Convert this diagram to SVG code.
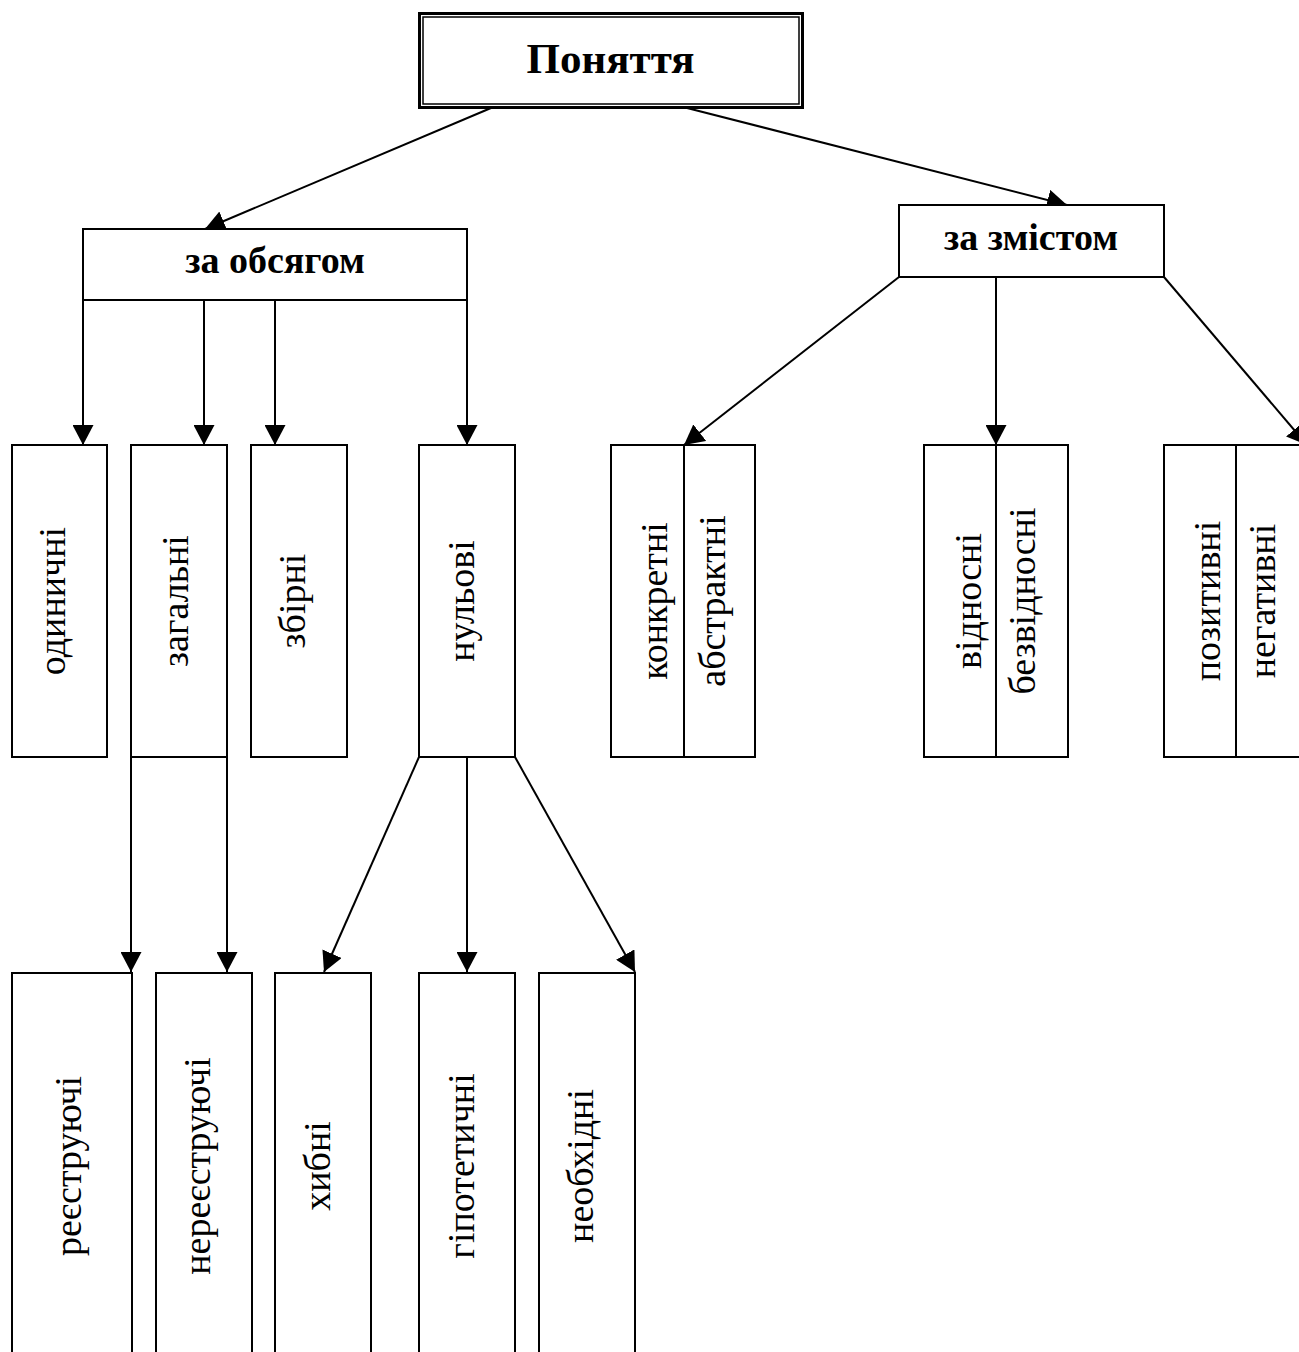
<svg xmlns="http://www.w3.org/2000/svg" width="1299" height="1352" viewBox="0 0 1299 1352">
<style>
.box{fill:#fff;stroke:#000;stroke-width:2}
.div{stroke:#000;stroke-width:2}
.con{stroke:#000;stroke-width:2;fill:none;marker-end:url(#ah)}
.hd{font-family:"Liberation Serif","Times New Roman",serif;font-weight:bold;text-anchor:middle;fill:#000}
.vt{font-family:"Liberation Serif","Times New Roman",serif;font-size:38px;text-anchor:middle;fill:#000}
</style>
<defs>
<marker id="ah" markerWidth="20" markerHeight="21" refX="20" refY="10.5" orient="auto" markerUnits="userSpaceOnUse">
<path d="M0,0 L20,10.5 L0,21 z" fill="#000"/>
</marker>
</defs>
<rect width="1299" height="1352" fill="#fff"/>
<g id="connectors">
<line class="con" x1="491" y1="108" x2="205" y2="229"/>
<line class="con" x1="687" y1="108" x2="1067" y2="205"/>
<line class="con" x1="83" y1="300" x2="83" y2="445"/>
<line class="con" x1="204" y1="300" x2="204" y2="445"/>
<line class="con" x1="275" y1="300" x2="275" y2="445"/>
<line class="con" x1="467" y1="300" x2="467" y2="445"/>
<line class="con" x1="899" y1="277" x2="684" y2="445"/>
<line class="con" x1="996" y1="277" x2="996" y2="445"/>
<line class="con" x1="1164" y1="277" x2="1307" y2="445"/>
<line class="con" x1="131" y1="757" x2="131" y2="972"/>
<line class="con" x1="227" y1="757" x2="227" y2="972"/>
<line class="con" x1="419" y1="757" x2="324" y2="972"/>
<line class="con" x1="467" y1="757" x2="467" y2="972"/>
<line class="con" x1="515" y1="757" x2="635" y2="972"/>
</g>
<g id="ponyattya">
<rect x="419.5" y="13.5" width="383" height="94" fill="#fff" stroke="#000" stroke-width="3"/>
<rect x="423" y="17" width="376" height="87" fill="none" stroke="#000" stroke-width="1.5"/>
<text class="hd" x="610.5" y="73" font-size="43">Поняття</text>
</g>
<g id="za-obsyagom">
<rect class="box" x="83" y="229" width="384" height="71"/>
<text class="hd" x="275" y="273" font-size="38">за обсягом</text>
</g>
<g id="za-zmistom">
<rect class="box" x="899" y="205" width="265" height="72"/>
<text class="hd" x="1031" y="250" font-size="38">за змістом</text>
</g>
<g id="odynychni">
<rect class="box" x="12" y="445" width="95" height="312"/>
<text class="vt" transform="translate(65,601) rotate(-90)">одиничні</text>
</g>
<g id="zagalni">
<rect class="box" x="131" y="445" width="96" height="312"/>
<text class="vt" transform="translate(188,601) rotate(-90)">загальні</text>
</g>
<g id="zbirni">
<rect class="box" x="251" y="445" width="96" height="312"/>
<text class="vt" transform="translate(305,601) rotate(-90)">збірні</text>
</g>
<g id="nulovi">
<rect class="box" x="419" y="445" width="96" height="312"/>
<text class="vt" transform="translate(473.5,601) rotate(-90)">нульові</text>
</g>
<g id="konkretni-abstraktni">
<rect class="box" x="611" y="445" width="144" height="312"/>
<line class="div" x1="684" y1="445" x2="684" y2="757"/>
<text class="vt" transform="translate(667,601) rotate(-90)">конкретні</text>
<text class="vt" transform="translate(725,601) rotate(-90)">абстрактні</text>
</g>
<g id="vidnosni-bezvidnosni">
<rect class="box" x="924" y="445" width="144" height="312"/>
<line class="div" x1="996" y1="445" x2="996" y2="757"/>
<text class="vt" transform="translate(981,601) rotate(-90)">відносні</text>
<text class="vt" transform="translate(1035,601) rotate(-90)">безвідносні</text>
</g>
<g id="pozytyvni-negatyvni">
<rect class="box" x="1164" y="445" width="144" height="312"/>
<line class="div" x1="1236" y1="445" x2="1236" y2="757"/>
<text class="vt" transform="translate(1220,601) rotate(-90)">позитивні</text>
<text class="vt" transform="translate(1275,601) rotate(-90)">негативні</text>
</g>
<g id="reyestruyuchi">
<rect class="box" x="12" y="973" width="120" height="387"/>
<text class="vt" transform="translate(81,1166) rotate(-90)">реєструючі</text>
</g>
<g id="nereyestruyuchi">
<rect class="box" x="156" y="973" width="96" height="387"/>
<text class="vt" transform="translate(210,1166) rotate(-90)">нереєструючі</text>
</g>
<g id="khybni">
<rect class="box" x="275" y="973" width="96" height="387"/>
<text class="vt" transform="translate(330,1166) rotate(-90)">хибні</text>
</g>
<g id="hipotetychni">
<rect class="box" x="419" y="973" width="96" height="387"/>
<text class="vt" transform="translate(473.5,1166) rotate(-90)">гіпотетичні</text>
</g>
<g id="neobkhidni">
<rect class="box" x="539" y="973" width="96" height="387"/>
<text class="vt" transform="translate(593,1166) rotate(-90)">необхідні</text>
</g>
</svg>
